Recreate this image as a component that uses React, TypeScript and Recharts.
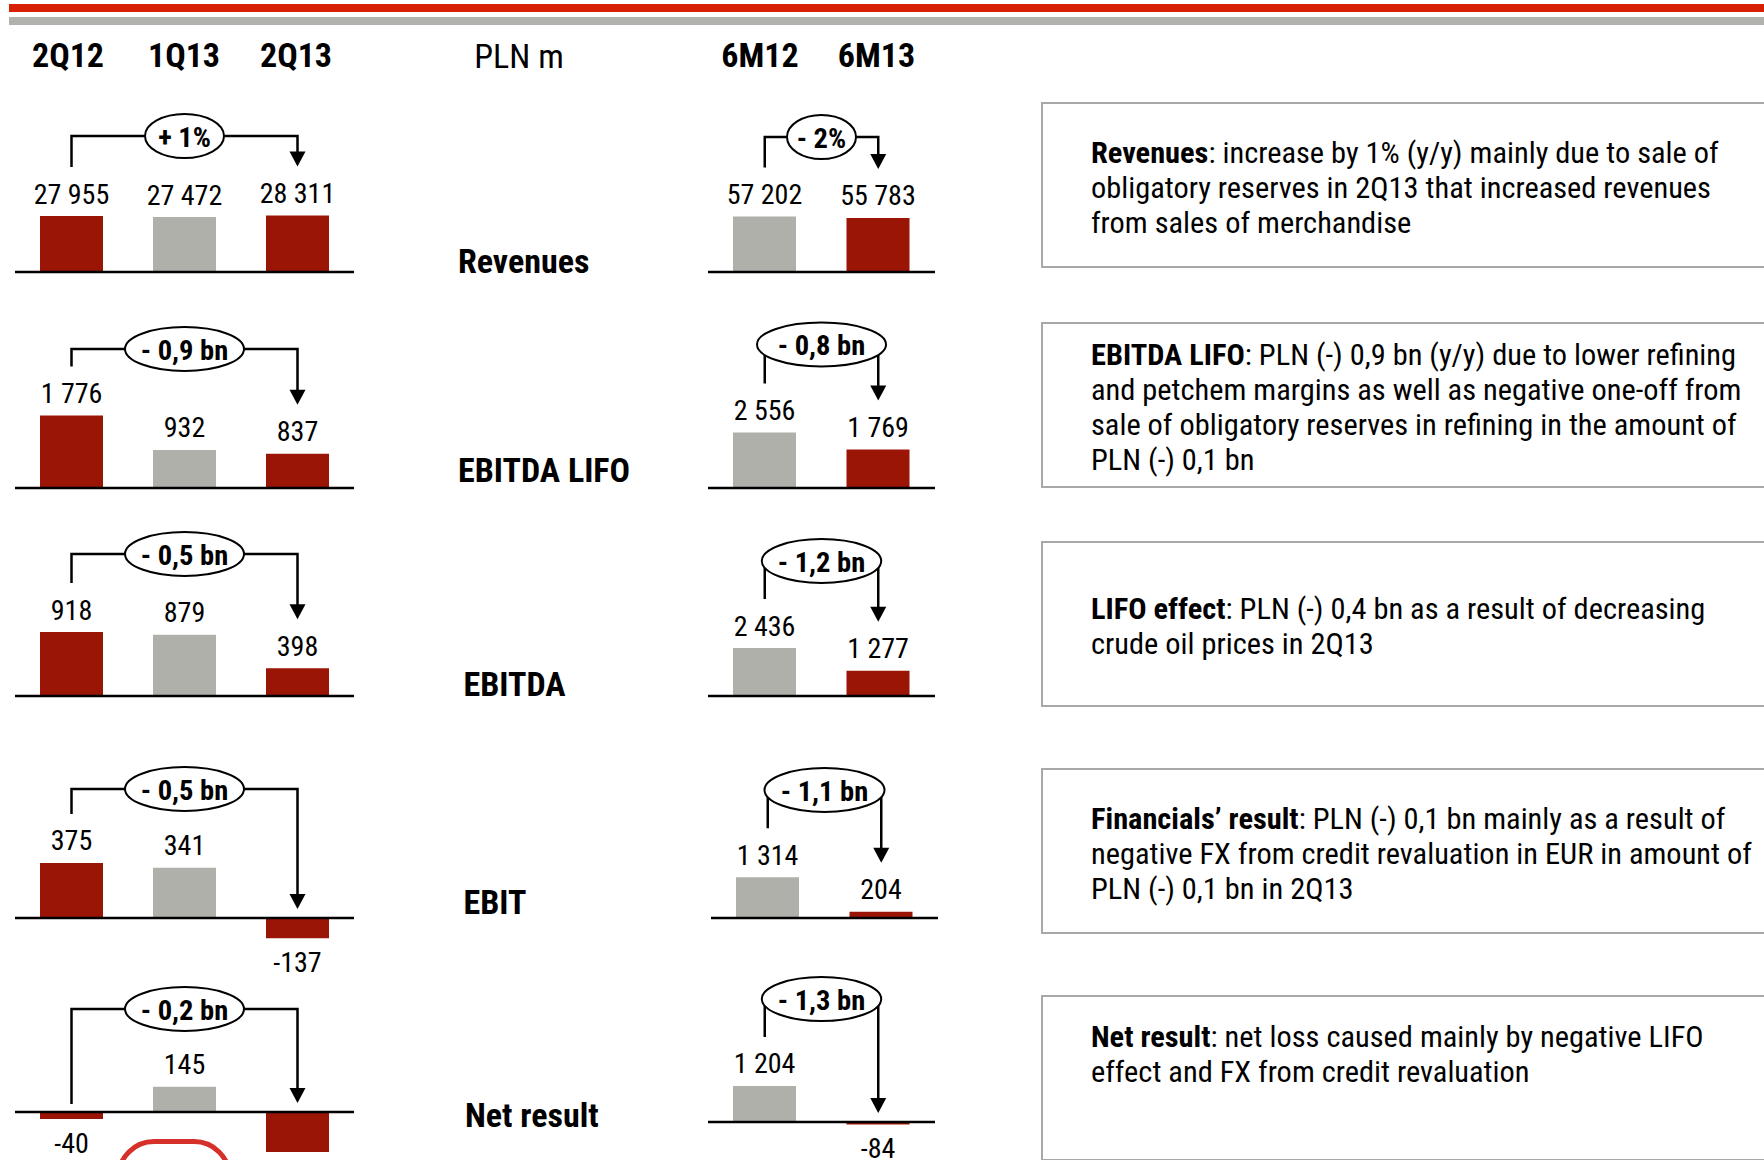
import { BarChart, Bar, XAxis, YAxis, Cell, LabelList, ReferenceLine } from 'recharts';

const FONT = "'Liberation Sans Narrow', 'Arial Narrow', 'Roboto Condensed', 'Liberation Sans', sans-serif";
const RED = '#9b1506';
const GREY = '#b0b0ab';

// periods
const quarters = ['2Q12', '1Q13', '2Q13'];
const halfYears = ['6M12', '6M13'];

// PLN m
const revenuesQ = [27955, 27472, 28311];
const revenuesH = [57202, 55783];
const ebitdaLifoQ = [1776, 932, 837];
const ebitdaLifoH = [2556, 1769];
const ebitdaQ = [918, 879, 398];
const ebitdaH = [2436, 1277];
const ebitQ = [375, 341, -137];
const ebitH = [1314, 204];
const netQ = [-40, 145, -229];
const netH = [1204, -84];

const rowTitles = ['Revenues', 'EBITDA LIFO', 'EBITDA', 'EBIT', 'Net result'];
const changesQ = ['+ 1%', '- 0,9 bn', '- 0,5 bn', '- 0,5 bn', '- 0,2 bn'];
const changesH = ['- 2%', '- 0,8 bn', '- 1,2 bn', '- 1,1 bn', '- 1,3 bn'];

const notes = [
  { title: 'Revenues', lines: [': increase by 1% (y/y) mainly due to sale of', 'obligatory reserves in 2Q13 that increased revenues', 'from sales of merchandise'] },
  { title: 'EBITDA LIFO', lines: [': PLN (-) 0,9 bn (y/y) due to lower refining', 'and petchem margins as well as negative one-off from', 'sale of obligatory reserves in refining in the amount of', 'PLN (-) 0,1 bn'] },
  { title: 'LIFO effect', lines: [': PLN (-) 0,4 bn as a result of decreasing', 'crude oil prices in 2Q13'] },
  { title: 'Financials\u2019 result', lines: [': PLN (-) 0,1 bn mainly as a result of', 'negative FX from credit revaluation in EUR in amount of', 'PLN (-) 0,1 bn in 2Q13'] },
  { title: 'Net result', lines: [': net loss caused mainly by negative LIFO', 'effect and FX from credit revaluation'] },
];

// layout (px) - one entry per row
const baseQ = [271.5, 487.7, 695.7, 917.7, 1112];
const baseH = [271.5, 488, 695.7, 917.7, 1122.3];
const leftH = [708, 708, 708, 711, 708];
const pxPerUnitQ = [0.002, 0.0408, 0.0697, 0.147, 0.175];
const pxPerUnitH = [0.00097, 0.0217, 0.0197, 0.031, 0.03];
const bracketQ = [136, 139, 142, 129, 103];
const bracketH = [135, 143.5, 135, 128, 123];
const ovalQ = [39.5, 59.5, 59.5, 59.5, 59.5];
const ovalH = [34.5, 64.5, 59.7, 60, 59.7];
const titleX = [458, 458, 463.5, 463.5, 465];
const titleY = [261, 470, 684, 902, 1115];
const boxTop = [102, 322, 541, 768, 994.5];
const noteY = [150, 352, 606, 816, 1034];

const ABOVE = 185;
const BELOW = 75;

const fmt = (v: number) => (v < 0 ? '-' : '') + String(Math.abs(v)).replace(/\B(?=(\d{3})+(?!\d))/g, ' ');

interface MiniProps {
  cats: string[];
  values: number[];
  colors: string[];
  change: string;
  left: number;
  base: number;
  width: number;
  scale: number;
  bracket: number;
  rx: number;
}

const MiniChart = ({ cats, values, colors, change, left, base, width, scale, bracket, rx }: MiniProps) => {
  const data = cats.map((c, i) => ({ period: c, value: values[i] }));
  const first = values[0];
  const last = values[values.length - 1];
  const topY = ABOVE - bracket;

  const renderValue = (p: any) => {
    const { x, y, width: w, height: h, value } = p;
    const top = Math.min(y, y + h);
    const bottom = Math.max(y, y + h);
    const cy = value < 0 ? bottom + 24 : top - 22;
    return (
      <text x={x + w / 2} y={cy} textAnchor="middle" dominantBaseline="central"
        style={{ fontFamily: FONT, fontSize: 28 }} fill="#000">
        {fmt(value)}
      </text>
    );
  };

  const renderBracket = (p: any) => {
    const { x1, y1, x2, y2 } = p;
    const startY = y1 - (first > 0 ? 49 : 8);
    const tipY = y2 - (last > 0 ? 49 : 9);
    const mid = (x1 + x2) / 2;
    return (
      <g>
        <path d={`M${x1},${startY} V${topY} H${x2} V${tipY - 12}`} fill="none" stroke="#000" strokeWidth={2.5} />
        <path d={`M${x2 - 8},${tipY - 15} L${x2 + 8},${tipY - 15} L${x2},${tipY} Z`} fill="#000" />
        <ellipse cx={mid} cy={topY} rx={rx} ry={22} fill="#fff" stroke="#000" strokeWidth={2} />
        <text x={mid} y={topY + 1} textAnchor="middle" dominantBaseline="central"
          style={{ fontFamily: FONT, fontSize: 28.5, fontWeight: 'bold' }} fill="#000">
          {change}
        </text>
      </g>
    );
  };

  return (
    <div style={{ position: 'absolute', left, top: base - ABOVE }}>
      <BarChart width={width} height={ABOVE + BELOW} data={data} barSize={63}
        margin={{ top: 0, right: 0, bottom: 0, left: 0 }}>
        <XAxis dataKey="period" hide />
        <YAxis hide type="number" domain={[-BELOW / scale, ABOVE / scale]} allowDataOverflow />
        <Bar dataKey="value" isAnimationActive={false}>
          {data.map((d, i) => (
            <Cell key={d.period} fill={colors[i]} />
          ))}
          <LabelList dataKey="value" content={renderValue} />
        </Bar>
        <ReferenceLine y={0} stroke="#000" strokeWidth={2.5} />
        <ReferenceLine
          segment={[
            { x: cats[0], y: Math.max(first, 0) },
            { x: cats[cats.length - 1], y: Math.max(last, 0) },
          ]}
          shape={renderBracket}
        />
      </BarChart>
    </div>
  );
};

const quarterly = [revenuesQ, ebitdaLifoQ, ebitdaQ, ebitQ, netQ];
const halfYearly = [revenuesH, ebitdaLifoH, ebitdaH, ebitH, netH];

export default function App() {
  const textBase = { position: 'absolute' as const, fontFamily: FONT, color: '#000', whiteSpace: 'nowrap' as const };
  return (
    <div style={{ position: 'absolute', left: 0, top: 0, width: 1764, height: 1160, overflow: 'hidden', background: '#fff' }}>
      <div style={{ position: 'absolute', left: 9, top: 4, width: 1755, height: 8, background: '#d81e05' }} />
      <div style={{ position: 'absolute', left: 9, top: 17, width: 1755, height: 8, background: '#b1b1ad' }} />

      {/* column headers */}
      {quarters.map((q, i) => (
        <div key={q} style={{ ...textBase, left: [68, 184, 296][i] - 60, width: 120, top: 37.5, fontSize: 34, lineHeight: '34px', fontWeight: 'bold', textAlign: 'center' }}>{q}</div>
      ))}
      <div style={{ ...textBase, left: 459, width: 120, top: 39, fontSize: 34, lineHeight: '34px', textAlign: 'center' }}>PLN m</div>
      {halfYears.map((q, i) => (
        <div key={q} style={{ ...textBase, left: [760, 876.5][i] - 60, width: 120, top: 38, fontSize: 34, lineHeight: '34px', fontWeight: 'bold', textAlign: 'center' }}>{q}</div>
      ))}

      {/* row titles */}
      {rowTitles.map((t, i) => (
        <div key={t} style={{ ...textBase, left: titleX[i], top: titleY[i] - 17, fontSize: 34, lineHeight: '34px', fontWeight: 'bold' }}>{t}</div>
      ))}

      {quarterly.map((vals, i) => (
        <MiniChart key={'q' + i} cats={quarters} values={vals} colors={[RED, GREY, RED]} change={changesQ[i]}
          left={15} base={baseQ[i]} width={339} scale={pxPerUnitQ[i]} bracket={bracketQ[i]} rx={ovalQ[i]} />
      ))}
      {halfYearly.map((vals, i) => (
        <MiniChart key={'h' + i} cats={halfYears} values={vals} colors={[GREY, RED]} change={changesH[i]}
          left={leftH[i]} base={baseH[i]} width={227} scale={pxPerUnitH[i]} bracket={bracketH[i]} rx={ovalH[i]} />
      ))}

      {/* comment boxes */}
      {notes.map((n, i) => (
        <div key={n.title} style={{ position: 'absolute', left: 1041, top: boxTop[i], width: 800, height: 166, border: '2.5px solid #a8a8a8', boxSizing: 'border-box' }}>
          <div style={{ ...textBase, left: 48, top: noteY[i] - boxTop[i] - 17.5, fontSize: 30.4, lineHeight: '35px' }}>
            {n.lines.map((l, j) => (
              <div key={j}>
                {j === 0 && <b>{n.title}</b>}
                {l}
              </div>
            ))}
          </div>
        </div>
      ))}

      <div style={{ position: 'absolute', left: 116, top: 1139, width: 116, height: 90, border: '5px solid #d6302a', borderRadius: 38, boxSizing: 'border-box' }} />
    </div>
  );
}
